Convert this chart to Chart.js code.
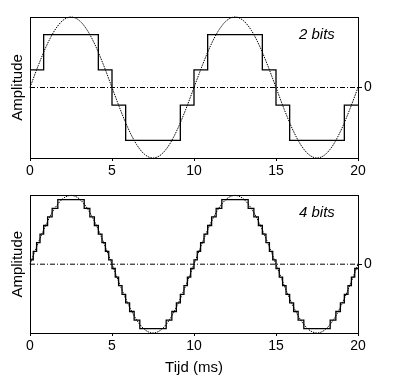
<!DOCTYPE html>
<html>
<head>
<meta charset="utf-8">
<script src="https://cdn.jsdelivr.net/npm/chart.js@4"></script>
<style>
  body { margin: 0; background: #fff; }
  canvas { position: absolute; left: 0; }
  #top { top: 0; }
  #bottom { top: 185px; }
</style>
</head>
<body>
<canvas id="top" width="397" height="185"></canvas>
<canvas id="bottom" width="397" height="197"></canvas>
<script>
// time axis ticks (ms)
const timeTicks = [0, 5, 10, 15, 20];

// the analogue signal, read every 0.5 ms
const sineT = [0, 0.5, 1, 1.5, 2, 2.5, 3, 3.5, 4, 4.5, 5, 5.5, 6, 6.5, 7, 7.5, 8, 8.5, 9, 9.5,
  10, 10.5, 11, 11.5, 12, 12.5, 13, 13.5, 14, 14.5, 15, 15.5, 16, 16.5, 17, 17.5, 18, 18.5, 19, 19.5, 20];
const sineY = [0, 0.309, 0.588, 0.809, 0.951, 1, 0.951, 0.809, 0.588, 0.309,
  0, -0.309, -0.588, -0.809, -0.951, -1, -0.951, -0.809, -0.588, -0.309,
  0, 0.309, 0.588, 0.809, 0.951, 1, 0.951, 0.809, 0.588, 0.309,
  0, -0.309, -0.588, -0.809, -0.951, -1, -0.951, -0.809, -0.588, -0.309, 0];

// 2 bits: start time of each level and the level
const step2T = [0, 0.833, 4.167, 5, 5.833, 9.167, 10, 10.833, 14.167, 15, 15.833, 19.167, 20];
const step2Y = [0.25, 0.75, 0.25, -0.25, -0.75, -0.25, 0.25, 0.75, 0.25, -0.25, -0.75, -0.25, -0.25];

// 4 bits
const step4T = [0, 0.199, 0.402, 0.612, 0.833, 1.074, 1.35, 1.696, 3.304, 3.65, 3.926, 4.167, 4.388, 4.598, 4.801,
  5, 5.199, 5.402, 5.612, 5.833, 6.074, 6.35, 6.696, 8.304, 8.65, 8.926, 9.167, 9.388, 9.598, 9.801,
  10, 10.199, 10.402, 10.612, 10.833, 11.074, 11.35, 11.696, 13.304, 13.65, 13.926, 14.167, 14.388, 14.598, 14.801,
  15, 15.199, 15.402, 15.612, 15.833, 16.074, 16.35, 16.696, 18.304, 18.65, 18.926, 19.167, 19.388, 19.598, 19.801, 20];
const step4Y = [0.0625, 0.1875, 0.3125, 0.4375, 0.5625, 0.6875, 0.8125, 0.9375, 0.8125, 0.6875, 0.5625, 0.4375, 0.3125, 0.1875, 0.0625,
  -0.0625, -0.1875, -0.3125, -0.4375, -0.5625, -0.6875, -0.8125, -0.9375, -0.8125, -0.6875, -0.5625, -0.4375, -0.3125, -0.1875, -0.0625,
  0.0625, 0.1875, 0.3125, 0.4375, 0.5625, 0.6875, 0.8125, 0.9375, 0.8125, 0.6875, 0.5625, 0.4375, 0.3125, 0.1875, 0.0625,
  -0.0625, -0.1875, -0.3125, -0.4375, -0.5625, -0.6875, -0.8125, -0.9375, -0.8125, -0.6875, -0.5625, -0.4375, -0.3125, -0.1875, -0.0625, -0.0625];

Chart.defaults.font.family = "'Liberation Sans', Arial, sans-serif";
Chart.defaults.color = '#000';

function pts(xs, ys) {
  return xs.map((x, i) => ({ x: x, y: ys[i] }));
}

// writes "2 bits" / "4 bits" in the upper right of the plot
const bitsLabel = {
  id: 'bitsLabel',
  afterDraw(chart, args, opts) {
    const ctx = chart.ctx;
    const a = chart.chartArea;
    ctx.save();
    ctx.font = "italic 15px 'Liberation Sans', Arial, sans-serif";
    ctx.fillStyle = '#000';
    ctx.textBaseline = 'alphabetic';
    ctx.fillText(opts.text, a.right - 59, a.top + 22);
    ctx.restore();
  }
};

function makeChart(id, stepT, stepY, label, padTop, xHeight, showTitle) {
  return new Chart(document.getElementById(id), {
    type: 'line',
    data: {
      datasets: [
        {
          // zero line
          data: pts([timeTicks[0], timeTicks[timeTicks.length - 1]], [0, 0]),
          borderColor: '#000', borderWidth: 1, borderDash: [5, 2, 1, 2],
          pointRadius: 0
        },
        {
          data: pts(sineT, sineY),
          borderColor: '#000', borderWidth: 1, borderDash: [1.5, 1],
          cubicInterpolationMode: 'monotone', pointRadius: 0, clip: 2
        },
        {
          data: pts(stepT, stepY),
          borderColor: '#000', borderWidth: 1.3, stepped: 'before',
          pointRadius: 0
        }
      ]
    },
    options: {
      responsive: false,
      animation: false,
      devicePixelRatio: 1,
      layout: { padding: { top: padTop, left: 0, right: 0, bottom: 0 } },
      plugins: { legend: { display: false }, tooltip: { enabled: false }, bitsLabel: { text: label } },
      scales: {
        x: {
          type: 'linear', position: 'bottom', min: 0, max: 20,
          afterBuildTicks: s => { s.ticks = timeTicks.map(v => ({ value: v })); },
          afterFit: s => { s.height = xHeight; },
          ticks: { font: { size: 14 }, padding: 2, maxRotation: 0 },
          grid: { drawOnChartArea: false, tickLength: 3, color: '#000' },
          border: { color: '#000' },
          title: { display: showTitle, text: 'Tijd (ms)', font: { size: 15 }, padding: { top: 0, bottom: 5 } }
        },
        xTop: {
          type: 'linear', position: 'top', min: 0, max: 20,
          afterFit: s => { s.height = 0; },
          ticks: { display: false },
          grid: { display: false },
          border: { color: '#000' }
        },
        y: {
          position: 'left', min: -1, max: 1,
          afterFit: s => { s.width = 30; },
          ticks: { display: false },
          grid: { display: false },
          border: { color: '#000' },
          title: { display: true, text: 'Amplitude', font: { size: 15 }, padding: { top: 9, bottom: 0 } }
        },
        yRight: {
          position: 'right', min: -1, max: 1,
          afterBuildTicks: s => { s.ticks = [{ value: 0 }]; },
          afterFit: s => { s.width = 39; },
          ticks: { font: { size: 14 }, padding: 2 },
          grid: { drawOnChartArea: false, tickLength: 4, color: '#000' },
          border: { color: '#000' }
        }
      }
    },
    plugins: [bitsLabel]
  });
}

makeChart('top', step2T, step2Y, '2 bits', 17, 27, false);
makeChart('bottom', step4T, step4Y, '4 bits', 7, 49, true);
</script>
</body>
</html>
